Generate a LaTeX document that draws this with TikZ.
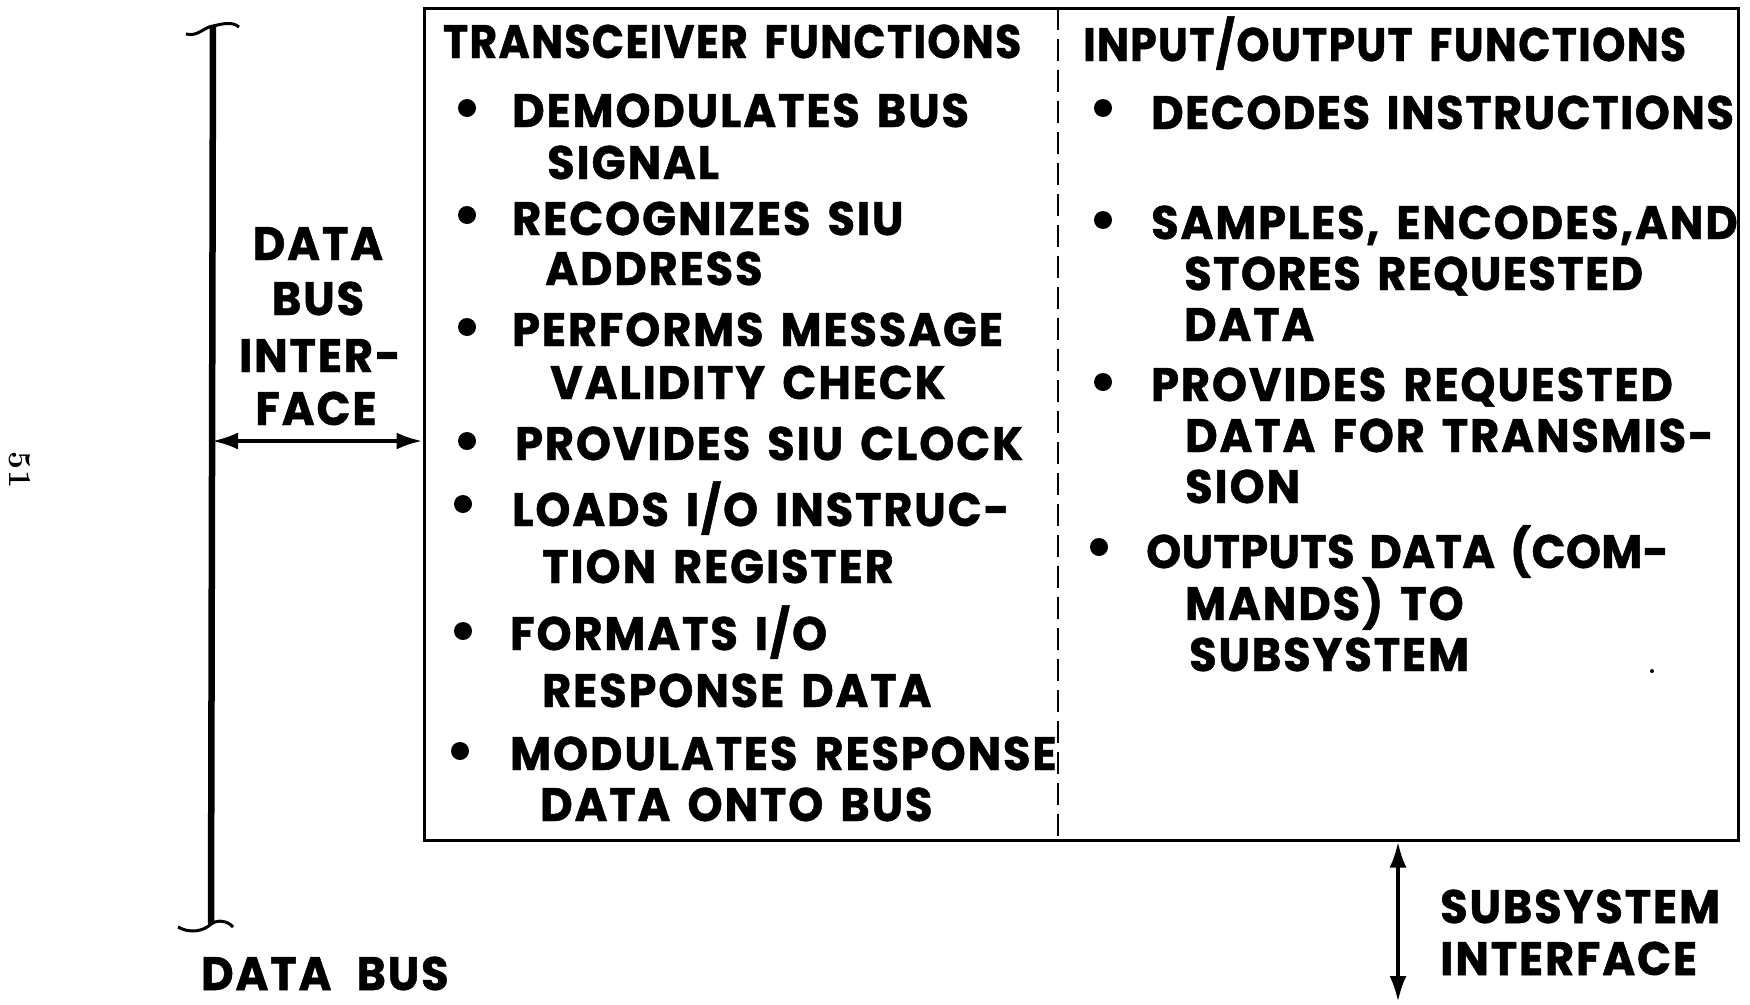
\documentclass[tikz,border=0pt]{standalone}
\usepackage{fontspec}
\newfontfamily\lbl{Poppins}[FakeStretch=0.95, LetterSpace=4, WordSpace=1.5, FakeBold=1]
\newfontfamily\ttl{Poppins}[FakeStretch=0.9, LetterSpace=3, WordSpace=1.6, FakeBold=1]
\usetikzlibrary{arrows.meta}
\tikzset{
  txt/.style={anchor=base west, inner sep=0pt, font=\lbl\bfseries\fontsize{47}{47}\selectfont},
  ttxt/.style={anchor=base west, inner sep=0pt, font=\ttl\bfseries\fontsize{47}{47}\selectfont},
  ctxt/.style={anchor=base, inner sep=0pt, font=\lbl\bfseries\fontsize{47}{47}\selectfont},
  bul/.style={circle, fill=black, inner sep=0pt, minimum size=18pt},
  mainbox/.style={draw, line width=3pt, minimum width=1314pt, minimum height=832pt, inner sep=0pt},
  busline/.style={line width=6.5pt},
  curl/.style={line width=3pt},
  dbl/.style={line width=4pt, {Latex[length=26pt,width=17pt]}-{Latex[length=26pt,width=17pt]}},
  divider/.style={line width=2pt, dash pattern=on 22pt off 9pt}
}
\begin{document}
\begin{tikzpicture}[x=1pt,y=-1pt]
\useasboundingbox (0,0) rectangle (1750,1004);
% main box
\node[mainbox] (box) at (1081,424) {};
\coordinate (divtop) at (1058,8);
\coordinate (divbot) at (1058,840);
\draw[divider] (divtop) -- (divbot);
% data bus line
\coordinate (bustop) at (213,26);
\coordinate (busbot) at (211,924);
\draw[busline] (bustop) -- (busbot);
\draw[curl] (186,34) .. controls (198,37) and (204,27) .. (213,26) .. controls (222,24) and (232,21) .. (239,27);
\draw[curl] (178,927) .. controls (190,934) and (204,931) .. (211,924) .. controls (218,919) and (228,921) .. (233,927);
% data bus interface arrow
\coordinate (busA) at (212,441);
\draw[dbl] (busA) -- (busA -| box.west);
% subsystem interface arrow
\coordinate (ssEnd) at (1398,1002);
\draw[dbl] (ssEnd |- box.south) -- (ssEnd);
% side labels
\node[ctxt] (l1) at (318,260) {DATA};
\node[ctxt] (l2) at (318,315) {BUS};
\node[ctxt] (l3) at (320,372) {INTER-};
\node[ctxt] (l4) at (316,425) {FACE};
\node[txt] (db) at (201,990) {DATA\hspace{8pt} BUS};
\node[txt] (ss1) at (1440,923) {SUBSYSTEM};
\node[txt] (ss2) at (1440,975) {INTERFACE};
\node[anchor=center, rotate=-90, inner sep=0pt, font=\bfseries\fontsize{32}{32}\selectfont] (pg) at (20,470) {51};
% left column
\node[ttxt] (t1) at (443,58) {TRANSCEIVER FUNCTIONS};
\node[bul] (b1) at (467,108) {};
\node[txt] (a1) at (512,127) {DEMODULATES BUS};
\node[txt] (a2) at (547,179) {SIGNAL};
\node[bul] (b2) at (467,215) {};
\node[txt] (a3) at (512,235) {RECOGNIZES SIU};
\node[txt] (a4) at (545,285) {ADDRESS};
\node[bul] (b3) at (467,327) {};
\node[txt] (a5) at (512,346) {PERFORMS MESSAGE};
\node[txt] (a6) at (550,399) {VALIDITY CHECK};
\node[bul] (b4) at (467,441) {};
\node[txt] (a7) at (515,460) {PROVIDES SIU CLOCK};
\node[bul] (b5) at (463,504) {};
\node[txt] (a8) at (512,526) {LOADS I/O INSTRUC-};
\node[txt] (a9) at (542,583) {TION REGISTER};
\node[bul] (b6) at (463,631) {};
\node[txt] (a10) at (510,650) {FORMATS I/O};
\node[txt] (a11) at (542,707) {RESPONSE DATA};
\node[bul] (b7) at (460,751) {};
\node[txt] (a12) at (510,770) {MODULATES RESPONSE};
\node[txt] (a13) at (540,821) {DATA ONTO BUS};
% right column
\node[ttxt] (t2) at (1083,61) {INPUT/OUTPUT FUNCTIONS};
\node[bul] (c1) at (1103,108) {};
\node[txt] (r1) at (1151,129) {\addfontfeature{LetterSpace=3.2}DECODES INSTRUCTIONS};
\node[bul] (c2) at (1103,220) {};
\node[txt] (r2) at (1151,239) {SAMPLES, ENCODES,AND};
\node[txt] (r3) at (1184,290) {\addfontfeature{LetterSpace=3}STORES REQUESTED};
\node[txt] (r4) at (1184,341) {DATA};
\node[bul] (c3) at (1103,382) {};
\node[txt] (r5) at (1151,401) {PROVIDES REQUESTED};
\node[txt] (r6) at (1185,452) {DATA FOR TRANSMIS-};
\node[txt] (r7) at (1185,503) {SION};
\node[bul] (c4) at (1099,547) {};
\node[txt] (r8) at (1146,568) {\addfontfeature{LetterSpace=0.8}OUTPUTS DATA (COM-};
\node[txt] (r9) at (1185,620) {MANDS) TO};
\node[txt] (r10) at (1189,671) {SUBSYSTEM};
\node[circle, fill=black, inner sep=0pt, minimum size=4pt] (speck) at (1652,671) {};
\end{tikzpicture}
\end{document}
